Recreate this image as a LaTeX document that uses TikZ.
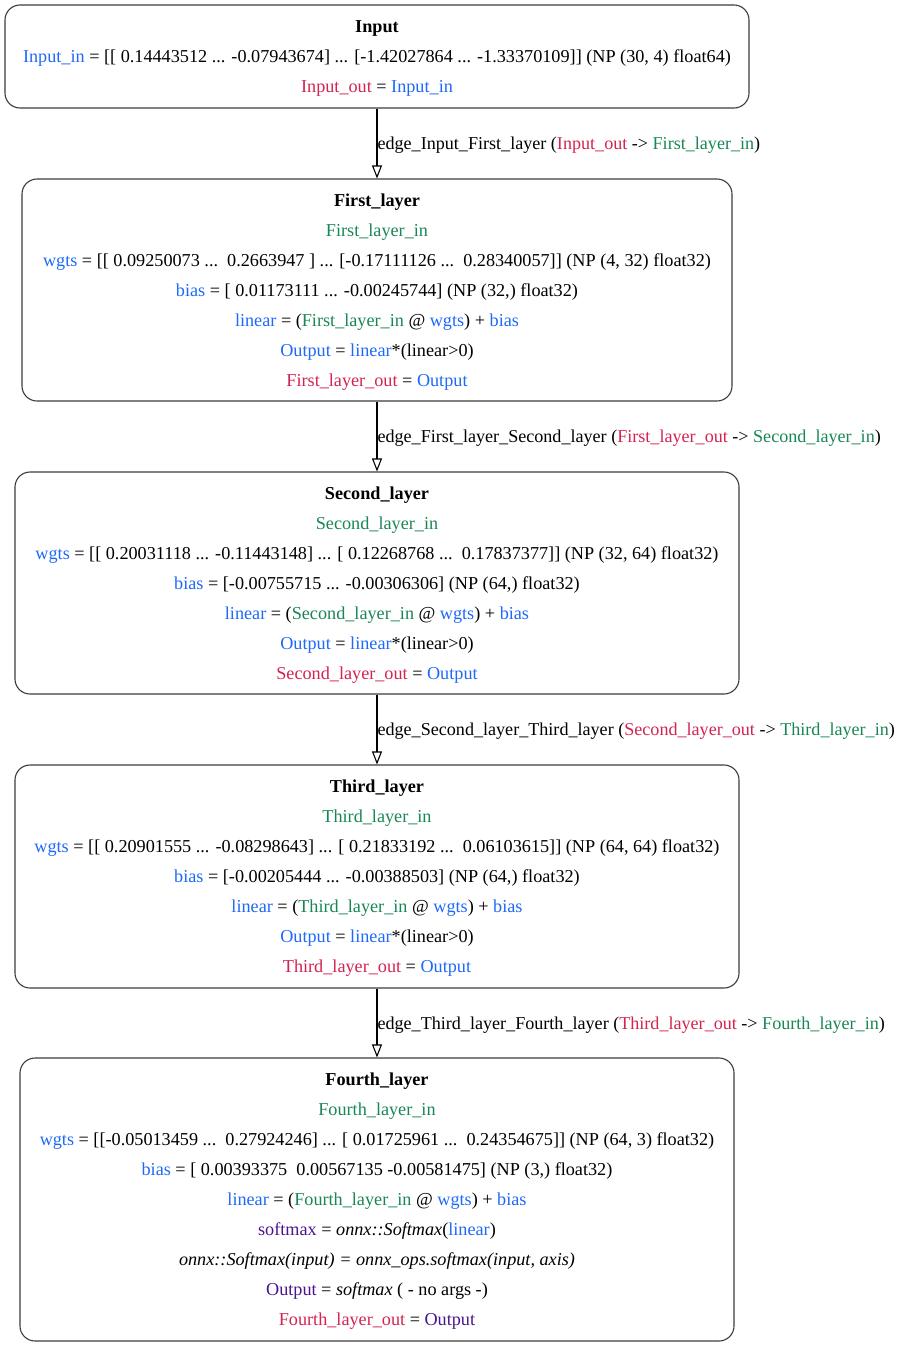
\documentclass[tikz,border=0pt]{standalone}
\usepackage{fontspec}
\setmainfont{Liberation Serif}
\usetikzlibrary{arrows.meta}

\definecolor{varblue}{RGB}{30,105,250}
\definecolor{varred}{RGB}{212,35,80}
\definecolor{vargreen}{RGB}{25,135,85}
\definecolor{varpurple}{RGB}{75,20,140}
\definecolor{boxline}{RGB}{60,60,60}

\newcommand\txb[1]{\textcolor{varblue}{#1}}
\newcommand\txr[1]{\textcolor{varred}{#1}}
\newcommand\txg[1]{\textcolor{vargreen}{#1}}
\newcommand\txp[1]{\textcolor{varpurple}{#1}}
% strut that lifts the first line of every box
\newcommand\topstrut{\rule{0pt}{16pt}}

\begin{document}
\begin{tikzpicture}[x=1pt, y=-1pt,
  layerbox/.style={draw=boxline, line width=1.1pt, rounded corners=15pt,
    rectangle, inner sep=0pt, align=center,
    font=\fontsize{18.2pt}{30pt}\selectfont},
  flow/.style={draw=black, line width=1.1pt,
    -{Triangle[open, length=13pt, width=10pt, line width=1.1pt]}},
  flowlabel/.style={right, inner sep=0pt, yshift=-2pt,
    font=\fontsize{18.1pt}{21pt}\selectfont}]

\useasboundingbox (0,0) rectangle (900,1347);

\node[layerbox, minimum width=744pt, minimum height=103pt] (input) at (377,56.5)
  {\topstrut\textbf{Input}\\
   \txb{Input\_in} = [[ 0.14443512 ... -0.07943674] ... [-1.42027864 ... -1.33370109]] (NP (30, 4) float64)\\
   \txr{Input\_out} = \txb{Input\_in}};

\node[layerbox, minimum width=710pt, minimum height=222pt] (first) at (377,290)
  {\topstrut\textbf{First\_layer}\\
   \txg{First\_layer\_in}\\
   \txb{wgts} = [[ 0.09250073 ...\ \ 0.2663947 ] ... [-0.17111126 ...\ \ 0.28340057]] (NP (4, 32) float32)\\
   \txb{bias} = [ 0.01173111 ... -0.00245744] (NP (32,) float32)\\
   \txb{linear} = (\txg{First\_layer\_in} @ \txb{wgts}) + \txb{bias}\\
   \txb{Output} = \txb{linear}*(linear>0)\\
   \txr{First\_layer\_out} = \txb{Output}};

\node[layerbox, minimum width=724pt, minimum height=222pt] (second) at (377,583)
  {\topstrut\textbf{Second\_layer}\\
   \txg{Second\_layer\_in}\\
   \txb{wgts} = [[ 0.20031118 ... -0.11443148] ... [ 0.12268768 ...\ \ 0.17837377]] (NP (32, 64) float32)\\
   \txb{bias} = [-0.00755715 ... -0.00306306] (NP (64,) float32)\\
   \txb{linear} = (\txg{Second\_layer\_in} @ \txb{wgts}) + \txb{bias}\\
   \txb{Output} = \txb{linear}*(linear>0)\\
   \txr{Second\_layer\_out} = \txb{Output}};

\node[layerbox, minimum width=724pt, minimum height=223pt] (third) at (377,876.5)
  {\topstrut\textbf{Third\_layer}\\
   \txg{Third\_layer\_in}\\
   \txb{wgts} = [[ 0.20901555 ... -0.08298643] ... [ 0.21833192 ...\ \ 0.06103615]] (NP (64, 64) float32)\\
   \txb{bias} = [-0.00205444 ... -0.00388503] (NP (64,) float32)\\
   \txb{linear} = (\txg{Third\_layer\_in} @ \txb{wgts}) + \txb{bias}\\
   \txb{Output} = \txb{linear}*(linear>0)\\
   \txr{Third\_layer\_out} = \txb{Output}};

\node[layerbox, minimum width=714pt, minimum height=283pt] (fourth) at (377,1199.5)
  {\topstrut\textbf{Fourth\_layer}\\
   \txg{Fourth\_layer\_in}\\
   \txb{wgts} = [[-0.05013459 ...\ \ 0.27924246] ... [ 0.01725961 ...\ \ 0.24354675]] (NP (64, 3) float32)\\
   \txb{bias} = [ 0.00393375\ \ 0.00567135 -0.00581475] (NP (3,) float32)\\
   \txb{linear} = (\txg{Fourth\_layer\_in} @ \txb{wgts}) + \txb{bias}\\
   \txp{softmax} = \textit{onnx::Softmax}(\txb{linear})\\
   \textit{onnx::Softmax(input) = onnx\_ops.softmax(input, axis)}\\
   \txp{Output} = \textit{softmax} ( - no args -)\\
   \txr{Fourth\_layer\_out} = \txp{Output}};

\draw[flow] (input.south) -- (first.north)
  node[flowlabel, midway] {edge\_Input\_First\_layer (\txr{Input\_out} -> \txg{First\_layer\_in})};
\draw[flow] (first.south) -- (second.north)
  node[flowlabel, midway] {edge\_First\_layer\_Second\_layer (\txr{First\_layer\_out} -> \txg{Second\_layer\_in})};
\draw[flow] (second.south) -- (third.north)
  node[flowlabel, midway] {edge\_Second\_layer\_Third\_layer (\txr{Second\_layer\_out} -> \txg{Third\_layer\_in})};
\draw[flow] (third.south) -- (fourth.north)
  node[flowlabel, midway] {edge\_Third\_layer\_Fourth\_layer (\txr{Third\_layer\_out} -> \txg{Fourth\_layer\_in})};

\end{tikzpicture}
\end{document}
